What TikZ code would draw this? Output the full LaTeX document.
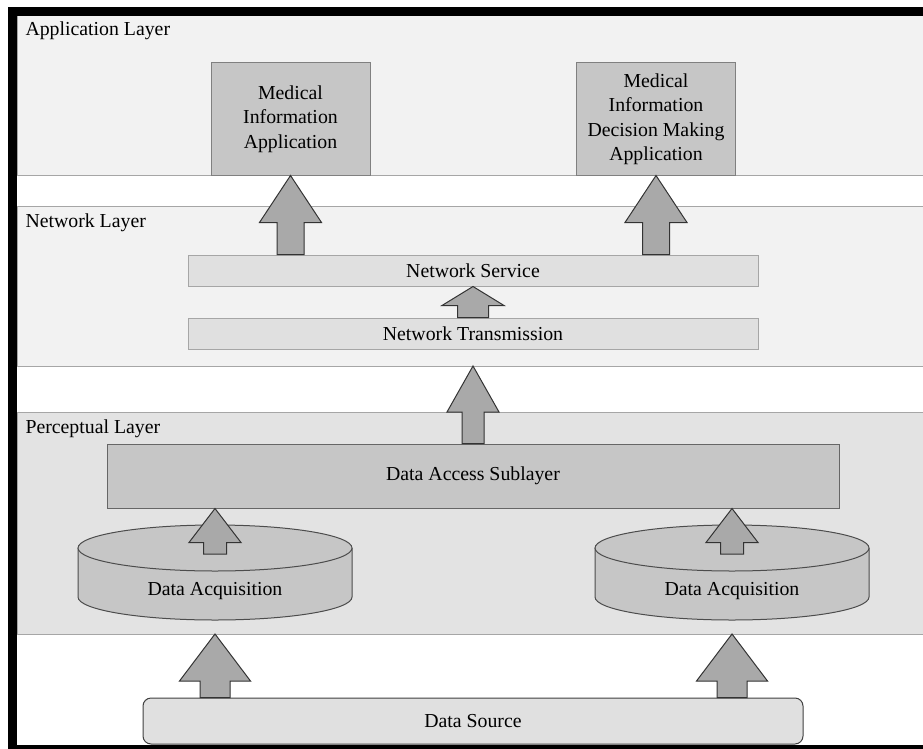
\documentclass[tikz,border=0pt]{standalone}
\usepackage{fontspec}
\setmainfont{Liberation Serif}
\usepackage{xcolor}
\definecolor{layerbg}{HTML}{F2F2F2}
\definecolor{percbg}{HTML}{E3E3E3}
\definecolor{boxdark}{HTML}{C6C6C6}
\definecolor{boxlight}{HTML}{E0E0E0}
\definecolor{arrfill}{HTML}{A9A9A9}
\usetikzlibrary{calc}
\usetikzlibrary{positioning}

% block arrow: base, tip, shaft half width, head half width, head length
\newcommand{\bigup}[5]{%
  \draw[blockarr] let \p1=(#1), \p2=(#2) in
    (\x2-#3pt,\y1) -- (\x2-#3pt,\y2-#5pt) -- (\x2-#4pt,\y2-#5pt) -- (\x2,\y2)
    -- (\x2+#4pt,\y2-#5pt) -- (\x2+#3pt,\y2-#5pt) -- (\x2+#3pt,\y1) -- cycle;}

% flat cylinder round x centre
\newcommand{\drum}[1]{%
  \draw[cyl] (#1-137,548) -- (#1-137,597) arc[start angle=180,end angle=0,x radius=137,y radius=23] -- (#1+137,548);
  \draw[cyl] (#1,548) ellipse[x radius=137,y radius=23];}

\begin{document}
\begin{tikzpicture}[x=1pt,y=-1pt,line width=1pt,
    font=\fontsize{19.8}{24.5}\selectfont,
    layer/.style={draw=black!35,inner sep=0pt,outer sep=0pt,minimum width=906pt,anchor=north west},
    lbl/.style={anchor=base west,inner sep=0pt},
    appbox/.style={draw=black!50,fill=boxdark,inner sep=0pt,minimum width=159pt,minimum height=112pt,align=center},
    netbox/.style={draw=black!35,fill=boxlight,inner sep=0pt,minimum width=570pt,minimum height=31pt},
    blockarr/.style={draw=black!80,fill=arrfill,line join=miter},
    cyl/.style={draw=black!70,fill=boxdark}]
  \useasboundingbox (0,0) rectangle (923,749);

  \node[layer,fill=layerbg,minimum height=159pt](al) at (17,16) {};
  \node[layer,fill=layerbg,minimum height=160pt](nl) at (17,206) {};
  \node[layer,fill=percbg,minimum height=222pt](pl) at (17,412) {};
  \node[lbl](alt) at (25,36) {Application Layer};
  \node[lbl](nlt) at (25,227) {Network Layer};
  \node[lbl](plt) at (25,433) {Perceptual Layer};

  \node[appbox](mia) at (290.5,119) {Medical\\Information\\Application};
  \node[appbox](mid) at (656,119) {Medical\\Information\\Decision Making\\Application};

  \node[netbox](ns) at (473,270.5) {Network Service};
  \node[netbox](nt) at (473,333.5) {Network Transmission};

  \node[draw=black!60,fill=boxdark,inner sep=0pt,minimum width=732pt,minimum height=64pt](das) at (473,476) {Data Access Sublayer};

  \drum{215}
  \drum{732}
  \node(da1) at (215,591) {Data Acquisition};
  \node(da2) at (732,591) {Data Acquisition};
  \coordinate(dt1) at (215,554);
  \coordinate(dt2) at (732,554);

  \node[draw=black!75,fill=boxlight,rounded corners=8pt,inner sep=0pt,minimum width=660pt,minimum height=46pt](ds) at (473,721) {Data Source};

  \bigup{ns.north -| mia.south}{mia.south}{13.5}{31}{47}
  \bigup{ns.north -| mid.south}{mid.south}{13.5}{31}{47}
  \bigup{nt.north}{ns.south}{15.5}{31}{19}
  \bigup{das.north}{nl.south -| das.north}{11}{26}{46}
  \bigup{dt1}{das.south -| dt1}{11.5}{26}{34}
  \bigup{dt2}{das.south -| dt2}{11.5}{26}{34}
  \bigup{ds.north -| da1}{pl.south -| da1}{15}{35.5}{47}
  \bigup{ds.north -| da2}{pl.south -| da2}{15}{35.5}{47}

  % frame
  \fill (8,7) rectangle (923,16);
  \fill (8,7) rectangle (17,749);
  \fill (8,745) rectangle (923,749);
\end{tikzpicture}
\end{document}
